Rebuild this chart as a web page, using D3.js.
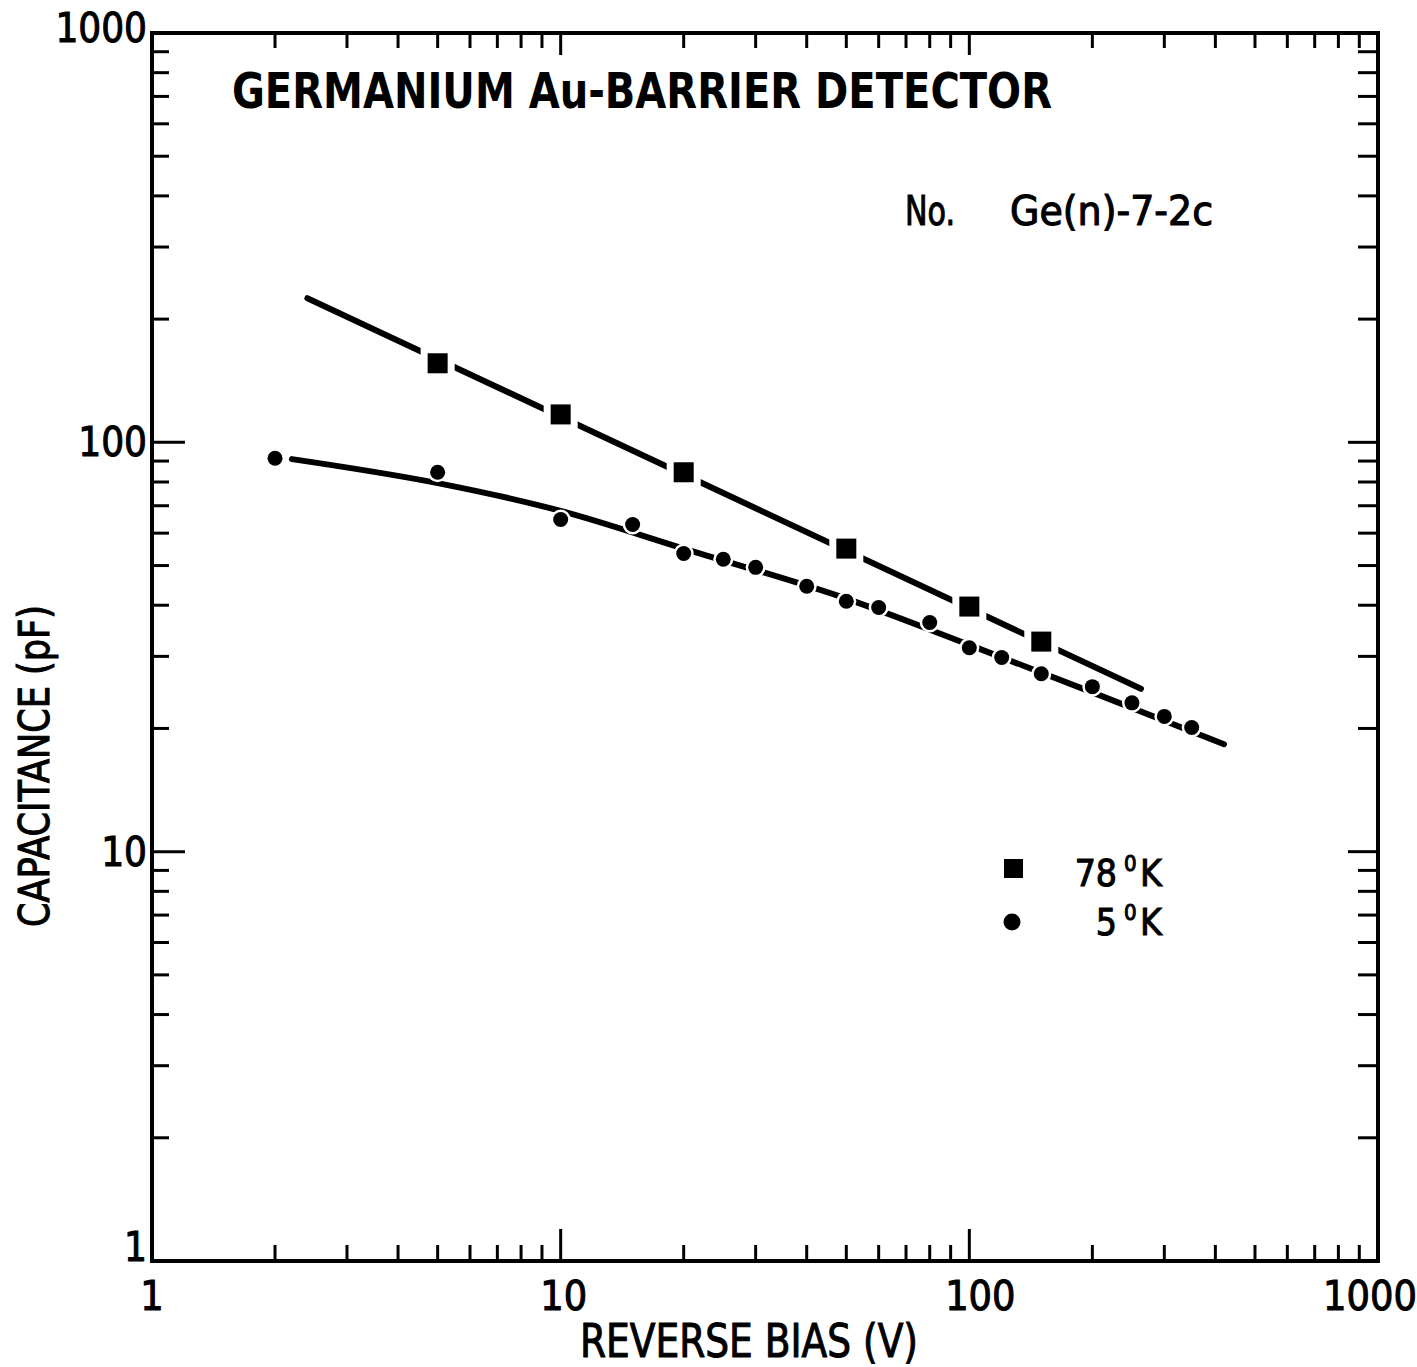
<!DOCTYPE html>
<html lang="en">
  <head>
    <meta charset="utf-8">
    <script type="text/javascript" src="https://d3js.org/d3.v7.min.js"></script>
    <title>Germanium Au-barrier detector</title>
    <style media="screen">
      body { margin: 0; background: #fff; }
      text { font-family: "DejaVu Sans Condensed", "DejaVu Sans", sans-serif; fill: #000; }
      .heavy { stroke: #000; stroke-width: 1; }
    </style>
  </head>
  <body>
    <script type="text/javascript">

    // measured points, 78 K (squares)
    var biasK78 = [5, 10, 20, 50, 100, 150];
    var capK78 = [156, 117, 84.5, 55, 39.7, 32.6];
    // fitted straight line for 78 K
    var fitK78Bias = [2.4, 263];
    var fitK78Cap = [225, 25];

    // measured points, 5 K (circles)
    var biasK5 = [2, 5, 10, 15, 20, 25, 30, 40, 50, 60, 80, 100, 120, 150, 200, 250, 300, 350];
    var capK5 = [91.4, 84.5, 64.8, 63, 53.5, 51.8, 49.5, 44.5, 40.9, 39.5, 36.3, 31.5, 29.8, 27.2, 25.3, 23.1, 21.4, 20.1];
    // drawn curve for 5 K
    var fitK5Bias = [2.2, 5, 10, 20, 50, 100, 200, 420];
    var fitK5Cap = [91, 79.5, 68, 55, 41.5, 32, 24.5, 18.3];

    var xTickLabels = ["1", "10", "100", "1000"];
    var yTickLabels = ["1", "10", "100", "1000"];
    var decades = [1, 10, 100, 1000];

    var W = 1417, H = 1367;
    var pLeft = 152, pRight = 1378, pTop = 33, pBottom = 1261;

    var x = d3.scaleLog().domain([1, 1000]).range([pLeft, pRight]);
    var y = d3.scaleLog().domain([1, 1000]).range([pBottom, pTop]);

    var svg = d3.select("body")
      .append("svg")
        .attr("width", W)
        .attr("height", H);

    // minor/major tick values
    var minor = [];
    [1, 10, 100].forEach(function(d) {
      for (var i = 2; i <= 9; i++) minor.push(d * i);
    });
    var allTicks = minor.concat([10, 100]);
    function isMajor(d) { return decades.indexOf(d) >= 0; }

    var ticks = svg.append("g")
      .attr("stroke", "#000")
      .attr("stroke-width", 3);

    // bottom & top
    ticks.selectAll(".xb")
      .data(allTicks)
      .enter().append("line")
        .attr("x1", function(d) { return x(d); })
        .attr("x2", function(d) { return x(d); })
        .attr("y1", pBottom)
        .attr("y2", function(d) { return isMajor(d) ? pBottom - 32 : pBottom - 16; });

    ticks.selectAll(".xt")
      .data(allTicks)
      .enter().append("line")
        .attr("x1", function(d) { return x(d); })
        .attr("x2", function(d) { return x(d); })
        .attr("y1", pTop)
        .attr("y2", function(d) { return isMajor(d) ? pTop + 22 : pTop + 15; });

    // left & right
    ticks.selectAll(".yl")
      .data(allTicks)
      .enter().append("line")
        .attr("y1", function(d) { return y(d); })
        .attr("y2", function(d) { return y(d); })
        .attr("x1", pLeft)
        .attr("x2", function(d) { return isMajor(d) ? pLeft + 33 : pLeft + 17; });

    ticks.selectAll(".yr")
      .data(allTicks)
      .enter().append("line")
        .attr("y1", function(d) { return y(d); })
        .attr("y2", function(d) { return y(d); })
        .attr("x1", pRight)
        .attr("x2", function(d) { return isMajor(d) ? pRight - 30 : pRight - 20; });

    // frame
    svg.append("rect")
      .attr("x", pLeft)
      .attr("y", pTop)
      .attr("width", pRight - pLeft)
      .attr("height", pBottom - pTop)
      .attr("fill", "none")
      .attr("stroke", "#000")
      .attr("stroke-width", 4);

    // tick labels
    svg.selectAll(".ylab")
      .data(decades)
      .enter().append("text")
        .attr("class", "heavy")
        .attr("x", pLeft - 5)
        .attr("y", function(d, i) { return y(d) + (i == 0 ? 0 : (i == 3 ? 9 : 14)); })
        .attr("text-anchor", "end")
        .attr("font-size", 40)
        .text(function(d, i) { return yTickLabels[i]; });

    svg.selectAll(".xlab")
      .data(decades)
      .enter().append("text")
        .attr("class", "heavy")
        .attr("x", function(d, i) { return x(d) + [0, 3, 11, -8][i]; })
        .attr("y", pBottom + 49)
        .attr("text-anchor", "middle")
        .attr("font-size", 41)
        .text(function(d, i) { return xTickLabels[i]; });

    // axis titles
    svg.append("text")
      .attr("class", "heavy")
      .attr("x", 580)
      .attr("y", 1357)
      .attr("font-size", 46)
      .attr("textLength", 338)
      .attr("lengthAdjust", "spacingAndGlyphs")
      .text("REVERSE  BIAS  (V)");

    svg.append("text")
      .attr("class", "heavy")
      .attr("transform", "translate(49,766) rotate(-90)")
      .attr("text-anchor", "middle")
      .attr("font-size", 42)
      .attr("textLength", 322)
      .attr("lengthAdjust", "spacingAndGlyphs")
      .text("CAPACITANCE (pF)");

    // titles inside
    svg.append("text")
      .attr("x", 232)
      .attr("y", 108)
      .attr("font-size", 50)
      .attr("font-weight", "bold")
      .attr("textLength", 820)
      .attr("lengthAdjust", "spacingAndGlyphs")
      .text("GERMANIUM  Au-BARRIER  DETECTOR");

    svg.append("text")
      .attr("class", "heavy")
      .attr("x", 905)
      .attr("y", 225)
      .attr("font-size", 40)
      .attr("textLength", 50)
      .attr("lengthAdjust", "spacingAndGlyphs")
      .text("No.");

    svg.append("text")
      .attr("class", "heavy")
      .attr("x", 1010)
      .attr("y", 225)
      .attr("font-size", 40)
      .attr("textLength", 203)
      .attr("lengthAdjust", "spacingAndGlyphs")
      .text("Ge(n)-7-2c");

    // curves
    var line = d3.line()
      .x(function(d) { return x(d[0]); })
      .y(function(d) { return y(d[1]); });

    svg.append("path")
      .datum(d3.zip(fitK78Bias, fitK78Cap))
      .attr("d", line)
      .attr("fill", "none")
      .attr("stroke", "#000")
      .attr("stroke-width", 6)
      .attr("stroke-linecap", "round");

    svg.append("path")
      .datum(d3.zip(fitK5Bias, fitK5Cap))
      .attr("d", line.curve(d3.curveMonotoneX))
      .attr("fill", "none")
      .attr("stroke", "#000")
      .attr("stroke-width", 6)
      .attr("stroke-linecap", "round");

    // 78 K squares: white halo gives the gaps in the line
    var sq = d3.zip(biasK78, capK78);
    svg.selectAll(".sqhalo")
      .data(sq)
      .enter().append("rect")
        .attr("x", function(d) { return x(d[0]) - 17; })
        .attr("y", function(d) { return y(d[1]) - 17; })
        .attr("width", 34)
        .attr("height", 34)
        .attr("fill", "#fff");
    svg.selectAll(".sq")
      .data(sq)
      .enter().append("rect")
        .attr("x", function(d) { return x(d[0]) - 10; })
        .attr("y", function(d) { return y(d[1]) - 10; })
        .attr("width", 20)
        .attr("height", 20)
        .attr("fill", "#000");

    // 5 K circles
    var ci = d3.zip(biasK5, capK5);
    svg.selectAll(".cihalo")
      .data(ci)
      .enter().append("circle")
        .attr("cx", function(d) { return x(d[0]); })
        .attr("cy", function(d) { return y(d[1]); })
        .attr("r", 10)
        .attr("fill", "#fff");
    svg.selectAll(".ci")
      .data(ci)
      .enter().append("circle")
        .attr("cx", function(d) { return x(d[0]); })
        .attr("cy", function(d) { return y(d[1]); })
        .attr("r", 7.5)
        .attr("fill", "#000");

    // legend
    var legend = svg.append("g");
    legend.append("rect")
      .attr("x", 1004).attr("y", 859)
      .attr("width", 19).attr("height", 19)
      .attr("fill", "#000");
    legend.append("circle")
      .attr("cx", 1012).attr("cy", 922)
      .attr("r", 8.5)
      .attr("fill", "#000");

    function degLabel(num, yb) {
      legend.append("text").attr("class", "heavy").attr("x", 1117).attr("y", yb)
        .attr("text-anchor", "end").attr("font-size", 37).text(num);
      legend.append("text").attr("class", "heavy").attr("x", 1124).attr("y", yb - 15)
        .attr("font-size", 22).text("0");
      legend.append("text").attr("class", "heavy").attr("x", 1140).attr("y", yb)
        .attr("font-size", 37).text("K");
    }
    degLabel("78", 886);
    degLabel("5", 935);

    </script>
  </body>
</html>
